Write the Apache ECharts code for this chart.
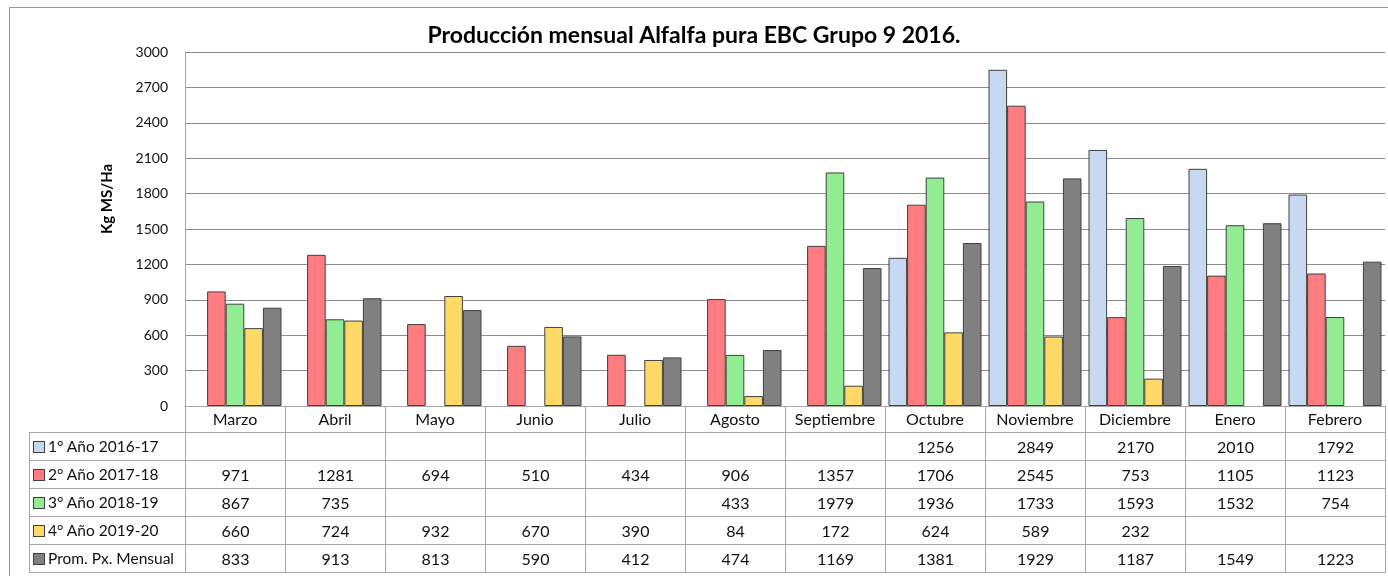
<!DOCTYPE html>
<html>
<head>
<meta charset="utf-8">
<script src="https://cdn.jsdelivr.net/npm/echarts@6/dist/echarts.min.js"></script>
<style>
  html, body { margin: 0; padding: 0; background: #fff; }
  #wrap { position: relative; width: 1388px; height: 576px; overflow: hidden; }
  #chart { position: absolute; left: 0; top: 0; width: 1388px; height: 576px; }
  #frame { position: absolute; left: 9px; top: 7px; width: 1390px; height: 580px; border: 1px solid #9a9a9a; pointer-events: none; }
  #tbl { position: absolute; left: 29px; top: 406px; border-collapse: collapse; table-layout: fixed;
         font-family: Lato, "Open Sans", sans-serif; font-size: 16px; color: #111; }
  #tbl td { border: 1px solid #a6a6a6; height: 27px; padding: 0; text-align: center; white-space: nowrap; overflow: hidden; }
  #tbl td.lab { text-align: left; padding-left: 3px; font-size: 15.5px; }
  #tbl td.blank { border-left: none; border-top: none; }
  #tbl tr.head td { border-top: none; height: 25.5px; }
  .sw { display: inline-block; width: 10px; height: 10px; border: 1px solid #404040; margin-right: 3px; vertical-align: -1px; }
</style>
</head>
<body>
<div id="wrap">
  <div id="chart"></div>
  <table id="tbl"></table>
  <div id="frame"></div>
</div>
<script>
  // datos
  var months = ['Marzo','Abril','Mayo','Junio','Julio','Agosto','Septiembre','Octubre','Noviembre','Diciembre','Enero','Febrero'];
  var ano1 = [null,null,null,null,null,null,null,1256,2849,2170,2010,1792];
  var ano2 = [971,1281,694,510,434,906,1357,1706,2545,753,1105,1123];
  var ano3 = [867,735,null,null,null,433,1979,1936,1733,1593,1532,754];
  var ano4 = [660,724,932,670,390,84,172,624,589,232,null,null];
  var prom = [833,913,813,590,412,474,1169,1381,1929,1187,1549,1223];
  var names = ['1° Año 2016-17','2° Año 2017-18','3° Año 2018-19','4° Año 2019-20','Prom. Px. Mensual'];
  var colors = ['#c6d9f1','#ff7c80','#92ec92','#ffd966','#808080'];
  var allSeries = [ano1, ano2, ano3, ano4, prom];

  var chart = echarts.init(document.getElementById('chart'));
  var series = [];
  for (var i = 0; i < allSeries.length; i++) {
    series.push({
      name: names[i],
      type: 'bar',
      data: allSeries[i],
      barGap: '0%',
      barCategoryGap: '7%',
      itemStyle: { color: colors[i], borderColor: '#404040', borderWidth: 1 }
    });
  }
  chart.setOption({
    animation: false,
    backgroundColor: '#fff',
    textStyle: { fontFamily: 'Lato, "Open Sans", sans-serif' },
    title: {
      text: 'Producción mensual Alfalfa pura EBC Grupo 9 2016.',
      left: 'center',
      top: 19,
      textStyle: { fontSize: 23, fontWeight: 'bold', color: '#000', fontFamily: 'Lato, sans-serif' }
    },
    grid: { left: 185, right: 3, top: 52, bottom: 170 },
    xAxis: {
      type: 'category',
      data: months,
      axisLine: { lineStyle: { color: '#a6a6a6' } },
      axisTick: { show: false },
      axisLabel: { color: '#111', fontSize: 16, margin: 6, interval: 0 }
    },
    yAxis: {
      type: 'value',
      min: 0,
      max: 3000,
      interval: 300,
      name: 'Kg MS/Ha',
      nameLocation: 'middle',
      nameGap: 70,
      nameRotate: 90,
      nameTextStyle: { fontSize: 15, fontWeight: 'bold', color: '#000', padding: [0, 0, 0, 60] },
      axisLine: { show: true, lineStyle: { color: '#a6a6a6' } },
      axisTick: { show: false },
      axisLabel: { color: '#111', fontSize: 14, margin: 17, formatter: function (v) { return String(v); } },
      splitLine: { lineStyle: { color: '#8c8c8c' } }
    },
    series: series
  });

  // tabla de datos bajo el grafico
  var tbl = document.getElementById('tbl');
  var html = '<colgroup><col style="width:156px">';
  for (var m = 0; m < months.length; m++) html += '<col style="width:100px">';
  html += '</colgroup><tr class="head"><td class="blank"></td>';
  for (var m = 0; m < months.length; m++) html += '<td></td>';
  html += '</tr>';
  for (var i = 0; i < allSeries.length; i++) {
    html += '<tr><td class="lab"><span class="sw" style="background:' + colors[i] + '"></span>' + names[i] + '</td>';
    for (var m = 0; m < months.length; m++) {
      var v = allSeries[i][m];
      html += '<td>' + (v == null ? '' : v) + '</td>';
    }
    html += '</tr>';
  }
  tbl.innerHTML = html;
</script>
</body>
</html>
